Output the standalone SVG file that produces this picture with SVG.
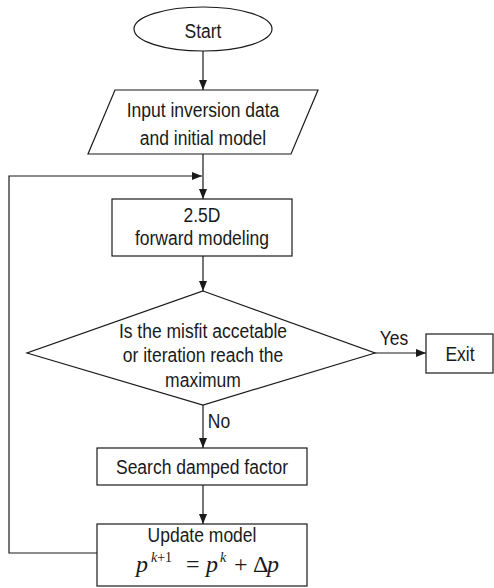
<svg xmlns="http://www.w3.org/2000/svg" width="494" height="588" viewBox="0 0 494 588">
<defs>
<marker id="ah" markerUnits="userSpaceOnUse" markerWidth="10" markerHeight="8" refX="10" refY="4" orient="auto">
<path d="M0,0 L10,4 L0,8 z" fill="#1a1a1a"/>
</marker>
<style>
.shape{fill:#fff;stroke:#1a1a1a;stroke-width:1.2}
.conn{fill:none;stroke:#1a1a1a;stroke-width:1.2}
.t{font-family:"Liberation Sans",Arial,sans-serif;font-size:20px;fill:#1a1a1a;text-anchor:middle}
.m{font-family:"Liberation Serif","Times New Roman",serif;fill:#1a1a1a}
</style>
</defs>
<rect width="494" height="588" fill="#fff"/>
<g id="connectors">
<line class="conn" x1="203" y1="51" x2="203" y2="90" marker-end="url(#ah)"/>
<line class="conn" x1="203" y1="154" x2="203" y2="199" marker-end="url(#ah)"/>
<polyline class="conn" points="97,553 9,553 9,176 202,176" marker-end="url(#ah)"/>
<line class="conn" x1="203" y1="256" x2="203" y2="291" marker-end="url(#ah)"/>
<line class="conn" x1="375" y1="353" x2="426" y2="353" marker-end="url(#ah)"/>
<line class="conn" x1="203" y1="405" x2="203" y2="448" marker-end="url(#ah)"/>
<line class="conn" x1="203" y1="485" x2="203" y2="524" marker-end="url(#ah)"/>
<text class="t" transform="translate(394,345) scale(0.875,1)">Yes</text>
<text class="t" transform="translate(219,428) scale(0.875,1)">No</text>
</g>
<g id="start">
<ellipse class="shape" cx="203" cy="29" rx="69" ry="22"/>
<text class="t" transform="translate(203,38) scale(0.875,1)">Start</text>
</g>
<g id="input">
<polygon class="shape" points="115,90 318,90 291,154 88,154"/>
<text class="t" transform="translate(203,117) scale(0.875,1)">Input inversion data</text>
<text class="t" transform="translate(203,145) scale(0.875,1)">and initial model</text>
</g>
<g id="forward">
<rect class="shape" x="112" y="199" width="180" height="57"/>
<text class="t" transform="translate(202,222) scale(0.875,1)">2.5D</text>
<text class="t" transform="translate(202,245) scale(0.875,1)">forward modeling</text>
</g>
<g id="decision">
<polygon class="shape" points="203,291 375,353 203,405 27,353"/>
<text class="t" transform="translate(203,338) scale(0.875,1)">Is the misfit accetable</text>
<text class="t" transform="translate(203,362) scale(0.875,1)">or iteration reach the</text>
<text class="t" transform="translate(203,387) scale(0.875,1)">maximum</text>
</g>
<g id="exit">
<rect class="shape" x="426" y="334" width="67" height="39"/>
<text class="t" transform="translate(460,361) scale(0.875,1)">Exit</text>
</g>
<g id="search">
<rect class="shape" x="97" y="448" width="210" height="37"/>
<text class="t" transform="translate(202,474) scale(0.875,1)">Search damped factor</text>
</g>
<g id="update">
<rect class="shape" x="97" y="524" width="210" height="62"/>
<text class="t" transform="translate(202,542) scale(0.875,1)">Update model</text>
<text class="m" font-size="24" y="572"><tspan x="136" font-style="italic">p</tspan><tspan x="151" y="562" font-size="14"><tspan font-style="italic">k</tspan>+1</tspan><tspan x="186" y="572">=</tspan><tspan x="206" font-style="italic">p</tspan><tspan x="220" y="562" font-size="14" font-style="italic">k</tspan><tspan x="234" y="572">+</tspan><tspan x="253">Δ</tspan><tspan x="267" font-style="italic">p</tspan></text>
</g>
</svg>
